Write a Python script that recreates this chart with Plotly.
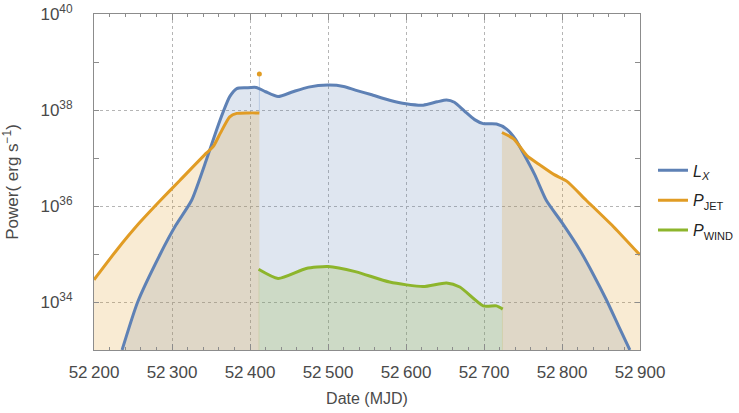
import plotly.graph_objects as go

# X-ray luminosity L_X
lx_date = [52236, 52256, 52285, 52305, 52325, 52344, 52357, 52366, 52374, 52383,
           52395, 52408, 52420, 52436, 52455, 52475, 52500, 52520, 52535, 52555,
           52579, 52600, 52622, 52640, 52652, 52662, 52675, 52688, 52699, 52716,
           52729, 52740, 52750, 52765, 52780, 52800, 52823, 52840, 52857, 52872, 52887]
lx_pow = [1.0e33, 1.0e34, 1.0e35, 4.0e35, 1.3e36, 9.1e36, 3.8e37, 9.5e37, 1.9e38, 2.8e38,
          2.9e38, 2.95e38, 2.4e38, 1.9e38, 2.4e38, 3.0e38, 3.3e38, 3.1e38, 2.6e38, 2.1e38,
          1.6e38, 1.35e38, 1.26e38, 1.48e38, 1.62e38, 1.45e38, 9.5e37, 6.3e37, 5.2e37, 5.1e37,
          4.0e37, 2.5e37, 1.3e37, 4.5e36, 1.3e36, 4.5e35, 1.2e35, 3.8e34, 1.1e34, 3.3e33, 1.0e33]

# Jet power P_JET, rise and decay branches plus the isolated flare point
jet_rise_date = [52200, 52229, 52258, 52285, 52310, 52344, 52353, 52362, 52374, 52383, 52398, 52412]
jet_rise_pow = [2.9e34, 1.2e35, 4.4e35, 1.3e36, 3.4e36, 1.26e37, 1.74e37, 3.3e37, 7.2e37, 8.5e37, 8.7e37, 8.7e37]
jet_decay_date = [52723, 52738, 52755, 52772, 52790, 52806, 52831, 52866, 52900]
jet_decay_pow = [3.4e37, 2.5e37, 1.12e37, 7.1e36, 4.5e36, 3.3e36, 1.32e36, 3.7e35, 9.5e34]
jet_flare_date = [52412]
jet_flare_pow = [5.6e38]

# Wind power P_WIND
wind_date = [52411, 52436, 52472, 52500, 52535, 52579, 52622, 52652, 52669, 52699, 52716, 52724]
wind_pow = [4.8e34, 3.1e34, 5.0e34, 5.5e34, 4.3e34, 2.6e34, 2.1e34, 2.5e34, 2.05e34, 8.3e33, 8.3e33, 7.1e33]

x_ticks = [52200, 52300, 52400, 52500, 52600, 52700, 52800, 52900]
x_tick_text = [f"{v // 1000}\u2009{v % 1000:03d}" for v in x_ticks]
y_ticks = [1e34, 1e36, 1e38, 1e40]
y_tick_text = ["10<sup>34</sup>", "10<sup>36</sup>", "10<sup>38</sup>", "10<sup>40</sup>"]
y_minor = [1e35, 1e37, 1e39]

BLUE = "#5e81b5"
ORANGE = "#e19c24"
GREEN = "#8db52c"
BLUE_FILL = "rgba(94,129,181,0.2)"
ORANGE_FILL = "rgba(225,156,36,0.2)"
GREEN_FILL = "rgba(143,176,49,0.22)"

FONT = "Liberation Sans, Arial, sans-serif"
TEXT = "#4a4a4a"
FRAME = "#8c8c8c"
SUB = '<sub><span style="font-size:11px">{}</span></sub>'

SPLINE = dict(shape="spline", smoothing=0.6)

fig = go.Figure()

# shaded areas under each curve (drawn first so the curves sit on top)
for xs, ys, col in [(lx_date, lx_pow, BLUE_FILL),
                    (jet_rise_date, jet_rise_pow, ORANGE_FILL),
                    (jet_decay_date, jet_decay_pow, ORANGE_FILL),
                    (wind_date, wind_pow, GREEN_FILL)]:
    fig.add_trace(go.Scatter(x=xs, y=ys, mode="lines", line=dict(width=0, **SPLINE),
                             fill="tozeroy", fillcolor=col, showlegend=False, hoverinfo="skip"))

# faint drop line below the flare point
fig.add_trace(go.Scatter(x=jet_flare_date * 2, y=[jet_flare_pow[0], jet_rise_pow[-1]], mode="lines",
                         line=dict(color="rgba(160,185,220,0.6)", width=1), showlegend=False, hoverinfo="skip"))

fig.add_trace(go.Scatter(x=lx_date, y=lx_pow, mode="lines", line=dict(color=BLUE, width=3, **SPLINE),
                         name="<i>L</i>" + SUB.format("<i>X</i>"), legendgroup="lx"))
fig.add_trace(go.Scatter(x=jet_rise_date, y=jet_rise_pow, mode="lines", line=dict(color=ORANGE, width=3, **SPLINE),
                         name="<i>P</i>" + SUB.format("JET"), legendgroup="jet"))
fig.add_trace(go.Scatter(x=jet_decay_date, y=jet_decay_pow, mode="lines", line=dict(color=ORANGE, width=3, **SPLINE),
                         showlegend=False, legendgroup="jet"))
fig.add_trace(go.Scatter(x=jet_flare_date, y=jet_flare_pow, mode="markers",
                         marker=dict(color=ORANGE, size=5), showlegend=False, legendgroup="jet"))
fig.add_trace(go.Scatter(x=wind_date, y=wind_pow, mode="lines", line=dict(color=GREEN, width=3, **SPLINE),
                         name="<i>P</i>" + SUB.format("WIND"), legendgroup="wind"))

axis_common = dict(showline=True, linecolor=FRAME, linewidth=1, mirror="ticks", ticks="inside",
                   tickcolor=FRAME, showgrid=True, gridcolor="#b5b5b5", griddash="dot", gridwidth=1,
                   zeroline=False, automargin=False, tickfont=dict(family=FONT, size=17, color=TEXT))

fig.update_xaxes(range=[52200, 52900], tickmode="array", tickvals=x_ticks, ticktext=x_tick_text,
                 ticklen=6, ticklabelstandoff=7,
                 minor=dict(dtick=20, tick0=52200, ticks="inside", ticklen=3, tickcolor=FRAME, showgrid=False),
                 title=dict(text="Date (MJD)", font=dict(family=FONT, size=16, color=TEXT), standoff=11),
                 **axis_common)
fig.update_yaxes(type="log", range=[33, 40], tickmode="array", tickvals=y_ticks, ticktext=y_tick_text,
                 ticklen=5, ticklabelstandoff=17,
                 minor=dict(tickmode="array", tickvals=y_minor, ticks="inside", ticklen=5, tickcolor=FRAME, showgrid=False),
                 title=dict(text="Power( erg s<sup>\u22121</sup>)", font=dict(family=FONT, size=17, color=TEXT),
                            standoff=25),
                 **axis_common)

fig.update_layout(
    width=739, height=413,
    margin=dict(l=94, r=99, t=14, b=63, autoexpand=False),
    plot_bgcolor="white", paper_bgcolor="white",
    legend=dict(x=1.0238, y=0.585, xanchor="left", yanchor="top", font=dict(family=FONT, size=16, color="#222"),
                bgcolor="rgba(0,0,0,0)", itemwidth=30, tracegroupgap=6),
    font=dict(family=FONT, color=TEXT),
)

fig.write_html("out.html")
